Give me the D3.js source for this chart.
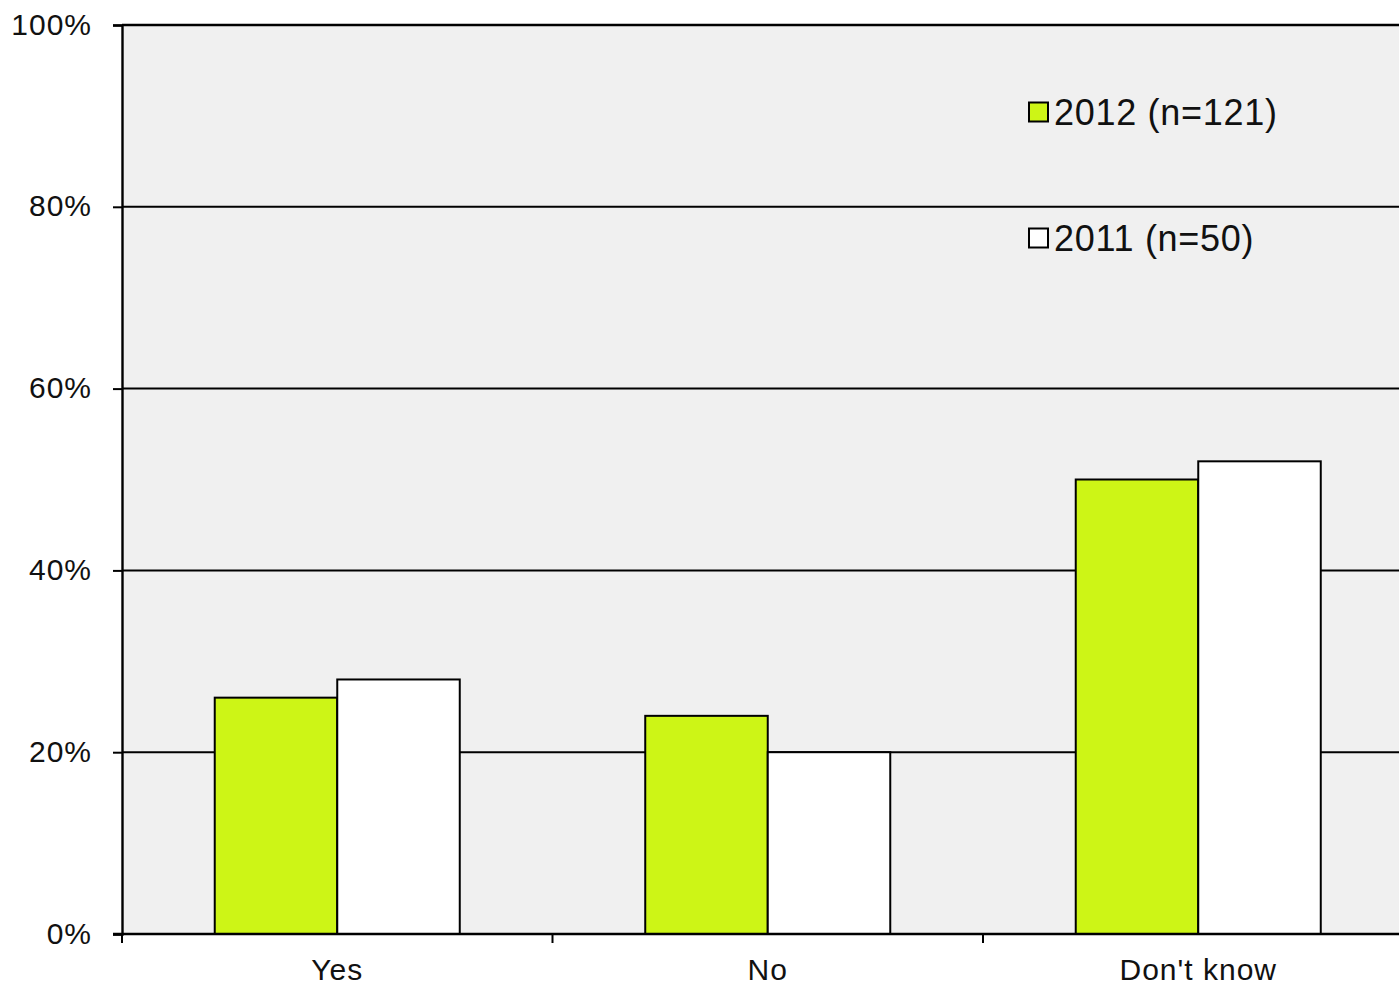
<!DOCTYPE html>
<html>
<head>
<meta charset="utf-8">
<script src="https://cdn.jsdelivr.net/npm/d3@7"></script>
<style>
  html, body { margin: 0; padding: 0; background: #ffffff; }
  svg { display: block; }
  text { font-family: "Liberation Sans", Arial, sans-serif; fill: #111; }
</style>
</head>
<body>
<svg id="chart" width="1399" height="985"></svg>
<script>
// Survey answers by year (share of respondents)
const categories = ["Yes", "No", "Don't know"];
const seriesNames = ["2012 (n=121)", "2011 (n=50)"];
const values2012 = [0.26, 0.24, 0.50];
const values2011 = [0.28, 0.20, 0.52];
const yTicks = [0, 0.2, 0.4, 0.6, 0.8, 1.0];
const seriesColors = ["#cdf516", "#ffffff"];

const seriesValues = [values2012, values2011];
const rows = categories.map((c, i) => ({
  category: c,
  values: seriesNames.map((s, j) => ({ series: s, value: seriesValues[j][i] }))
}));

const svg = d3.select("#chart");
const W = 1399;
const plotLeft = 122, plotTop = 25, plotBottom = 934;
const plotRight = 1413.5; // plot area runs past the right edge

const x0 = d3.scaleBand().domain(categories).range([plotLeft, plotRight]).paddingInner(0).paddingOuter(0);
const x1 = d3.scaleBand().domain(seriesNames).range([0, x0.bandwidth()]).paddingInner(0).paddingOuter(0.757);
const y = d3.scaleLinear().domain([0, 1]).range([plotBottom, plotTop]);
const color = d3.scaleOrdinal().domain(seriesNames).range(seriesColors);

// plot background
svg.append("rect")
  .attr("x", plotLeft).attr("y", plotTop)
  .attr("width", plotRight - plotLeft).attr("height", plotBottom - plotTop)
  .attr("fill", "#f0f0f0");

// horizontal gridlines
svg.append("g")
  .selectAll("line")
  .data(yTicks.filter(t => t > 0))
  .join("line")
  .attr("x1", plotLeft).attr("x2", W)
  .attr("y1", d => y(d)).attr("y2", d => y(d))
  .attr("stroke", "#000")
  .attr("stroke-width", d => d === 1 ? 2.6 : 2);

// bars
svg.append("g")
  .selectAll("g")
  .data(rows)
  .join("g")
  .attr("transform", d => `translate(${x0(d.category)},0)`)
  .selectAll("rect")
  .data(d => d.values)
  .join("rect")
  .attr("x", d => x1(d.series))
  .attr("y", d => y(d.value))
  .attr("width", x1.bandwidth())
  .attr("height", d => y(0) - y(d.value))
  .attr("fill", d => color(d.series))
  .attr("stroke", "#000")
  .attr("stroke-width", 2);

// y axis
const yAxis = svg.append("g")
  .attr("transform", `translate(${plotLeft},0)`)
  .call(d3.axisLeft(y).tickValues(yTicks).tickFormat(d3.format(".0%")).tickSize(9).tickPadding(21));
yAxis.select(".domain").attr("stroke", "#000").attr("stroke-width", 2.4);
yAxis.selectAll(".tick line").attr("stroke", "#000").attr("stroke-width", 2);
yAxis.selectAll(".tick text")
  .style("font-size", "30px")
  .style("letter-spacing", "1px")
  .style("font-family", "'Liberation Sans', Arial, sans-serif")
  .attr("fill", "#1a1a1a")
  .attr("dy", "0.3em");

// x axis
const xAxis = svg.append("g")
  .attr("transform", `translate(0,${plotBottom})`)
  .call(d3.axisBottom(x0).tickSize(0).tickPadding(24));
xAxis.select(".domain").remove();
xAxis.append("line")
  .attr("x1", plotLeft - 9).attr("x2", W)
  .attr("y1", 0).attr("y2", 0)
  .attr("stroke", "#000").attr("stroke-width", 2.4);
xAxis.selectAll(".tick text")
  .style("font-size", "30px")
  .style("letter-spacing", "1px")
  .style("font-family", "'Liberation Sans', Arial, sans-serif")
  .attr("fill", "#1a1a1a")
  .attr("dy", "0.74em");
// category separators below the axis
xAxis.append("g")
  .selectAll("line")
  .data(categories)
  .join("line")
  .attr("x1", d => x0(d)).attr("x2", d => x0(d))
  .attr("y1", 0).attr("y2", 9)
  .attr("stroke", "#000").attr("stroke-width", 2);

// legend
const legend = svg.append("g").attr("transform", "translate(1029,0)");
const legendY = [112, 238];
const items = legend.selectAll("g")
  .data(seriesNames)
  .join("g")
  .attr("transform", (d, i) => `translate(0,${legendY[i]})`);
items.append("rect")
  .attr("x", 0).attr("y", -9.5)
  .attr("width", 19).attr("height", 19)
  .attr("fill", d => color(d))
  .attr("stroke", "#000").attr("stroke-width", 2);
items.append("text")
  .attr("x", 25).attr("y", 0)
  .attr("dy", "0.36em")
  .style("font-size", "36px")
  .style("letter-spacing", "0.7px")
  .attr("fill", "#1a1a1a")
  .text(d => d);
</script>
</body>
</html>
